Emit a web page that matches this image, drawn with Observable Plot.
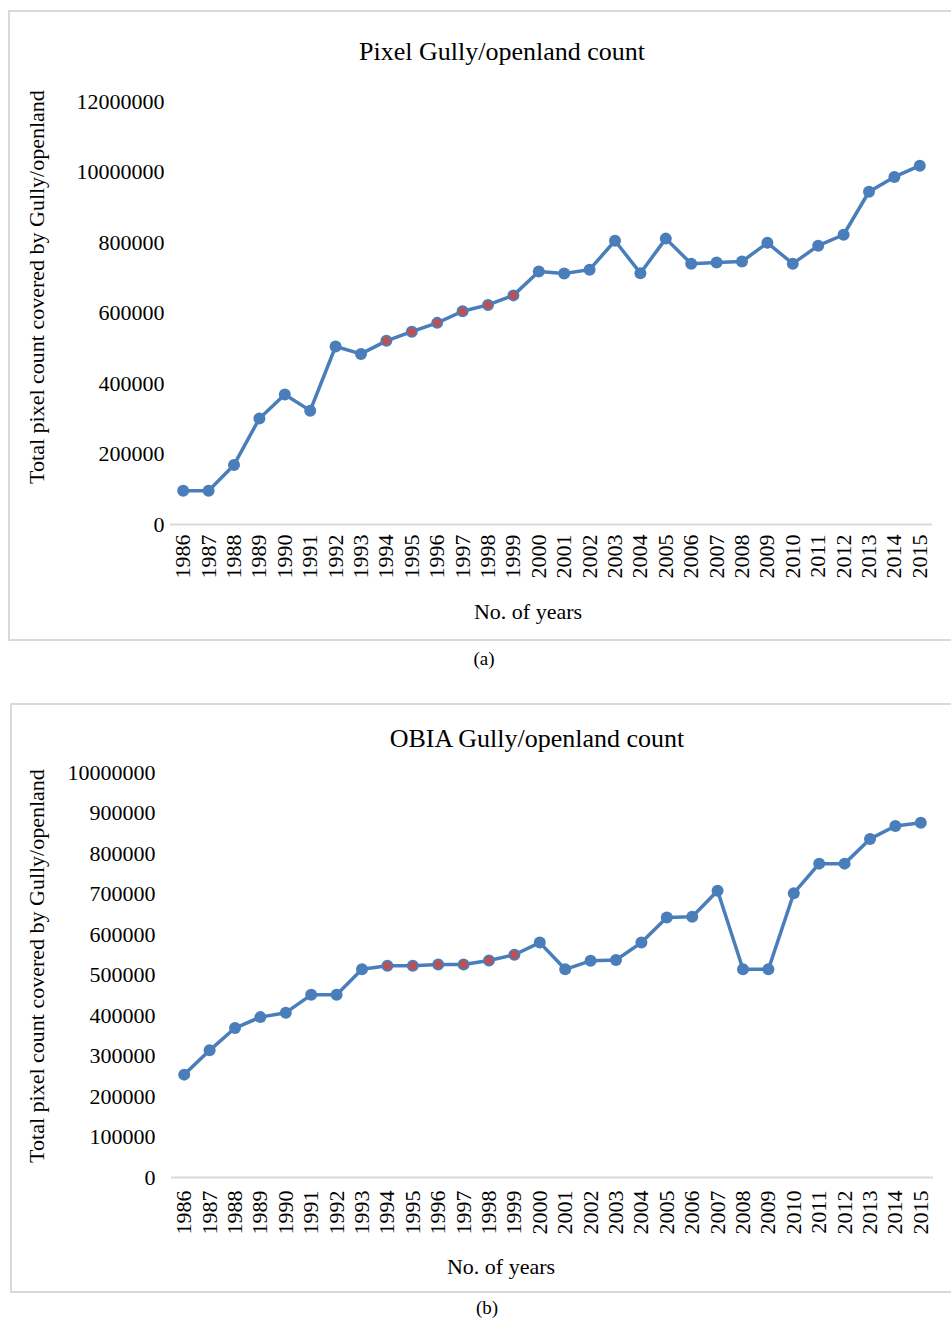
<!DOCTYPE html>
<html><head><meta charset="utf-8">
<script src="https://cdn.jsdelivr.net/npm/d3@7"></script>
<script src="https://cdn.jsdelivr.net/npm/@observablehq/plot@0.6"></script>
<style>
body{margin:0;background:#fff;}
#page{position:relative;width:951px;height:1318px;overflow:hidden;font-family:"Liberation Serif","Times New Roman",serif;color:#000;}
.frame{position:absolute;border:2px solid #d9d9d9;box-sizing:border-box;}
.txt{position:absolute;white-space:nowrap;transform:translate(-50%,-50%);line-height:1;}
.rot{transform:translate(-50%,-50%) rotate(-90deg);}
.chart{position:absolute;left:0;}
</style></head>
<body><div id="page">
<div id="chartA" class="chart" style="top:0px"></div>
<div id="chartB" class="chart" style="top:700px"></div>
<div class="frame" style="left:8px;top:10px;width:970px;height:631px"></div>
<div class="frame" style="left:10px;top:703px;width:970px;height:590px"></div>
<div class="txt" style="left:502px;top:52px;font-size:26px">Pixel Gully/openland count</div>
<div class="txt rot" style="left:37px;top:287px;font-size:22px">Total pixel count covered by Gully/openland</div>
<div class="txt" style="left:528px;top:612px;font-size:22px">No. of years</div>
<div class="txt" style="left:484px;top:658px;font-size:19px">(a)</div>
<div class="txt" style="left:537px;top:739px;font-size:26px">OBIA Gully/openland count</div>
<div class="txt rot" style="left:37px;top:966px;font-size:22px">Total pixel count covered by Gully/openland</div>
<div class="txt" style="left:501px;top:1267px;font-size:22px">No. of years</div>
<div class="txt" style="left:487px;top:1307px;font-size:19px">(b)</div>
</div>
<script>
const years = [1986,1987,1988,1989,1990,1991,1992,1993,1994,1995,1996,1997,1998,1999,2000,
               2001,2002,2003,2004,2005,2006,2007,2008,2009,2010,2011,2012,2013,2014,2015];
const pixelCounts = [96000,96000,169000,301000,369000,323000,505000,484000,521000,547000,
                     572000,605000,623000,650000,718000,712000,723000,805000,713000,811000,
                     740000,743000,746000,799000,740000,791000,822000,944000,986000,1018000];
const obiaCounts = [254000,314000,369000,396000,407000,451000,451000,514000,523000,523000,
                    526000,526000,536000,550000,580000,514000,535000,537000,580000,642000,
                    644000,708000,514000,514000,702000,775000,775000,836000,868000,876000];
const highlightYears = [1994,1995,1996,1997,1998,1999];
const yTicksA = [0,200000,400000,600000,800000,1000000,1200000];
const yTickLabelsA = ["0","200000","400000","600000","800000","10000000","12000000"];
const yTicksB = [0,100000,200000,300000,400000,500000,600000,700000,800000,900000,1000000];
const yTickLabelsB = ["0","100000","200000","300000","400000","500000","600000","700000","800000","900000","10000000"];

const BLUE = "#4A7EBB", RED = "#C0504D";

function chart({values, height, marginTop, marginBottom, marginLeft, marginRight, yMax, ticks, labels, padY, padX}) {
  const data = years.map((year, i) => ({year, value: values[i], hl: highlightYears.includes(year)}));
  return Plot.plot({
    width: 951, height, marginTop, marginBottom, marginLeft, marginRight,
    style: {fontFamily: "'Liberation Serif', 'Times New Roman', serif", fontSize: "22px", color: "#000", background: "transparent", overflow: "visible"},
    x: {type: "point", domain: years, padding: 0.5, round: false},
    y: {domain: [0, yMax]},
    marks: [
      Plot.ruleY([0], {stroke: "#d9d9d9", strokeWidth: 2}),
      Plot.axisY({ticks, tickFormat: d => labels[ticks.indexOf(d)], tickSize: 0, tickPadding: padY, label: null}),
      Plot.axisX({tickFormat: d => String(d), tickRotate: -90, tickSize: 0, tickPadding: padX, label: null}),
      Plot.line(data, {x: "year", y: "value", stroke: BLUE, strokeWidth: 3.5}),
      Plot.dot(data.filter(d => !d.hl), {x: "year", y: "value", r: 6, fill: BLUE}),
      Plot.dot(data.filter(d => d.hl), {x: "year", y: "value", r: 5, fill: RED, stroke: BLUE, strokeWidth: 2})
    ]
  });
}

document.getElementById("chartA").append(chart({
  values: pixelCounts, height: 640, marginTop: 101, marginBottom: 116, marginLeft: 170, marginRight: 19,
  yMax: 1200000, ticks: yTicksA, labels: yTickLabelsA, padY: 6, padX: 10
}));
document.getElementById("chartB").append(chart({
  values: obiaCounts, height: 600, marginTop: 72, marginBottom: 123, marginLeft: 171, marginRight: 18,
  yMax: 1000000, ticks: yTicksB, labels: yTickLabelsB, padY: 16, padX: 13
}));
</script>
</body></html>
